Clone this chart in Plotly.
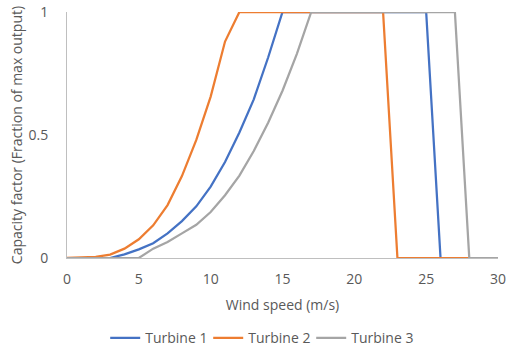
import plotly.graph_objects as go

wind_speed = list(range(0, 31))
turbine_1 = [0, 0, 0, 0, 0.015, 0.035, 0.06, 0.1, 0.15, 0.21, 0.29, 0.39, 0.51, 0.645, 0.815,
             1, 1, 1, 1, 1, 1, 1, 1, 1, 1, 1, 0, 0, 0, 0, 0]
turbine_2 = [0, 0.001, 0.005, 0.014, 0.038, 0.076, 0.133, 0.215, 0.333, 0.48, 0.656, 0.88,
             1, 1, 1, 1, 1, 1, 1, 1, 1, 1, 1, 0, 0, 0, 0, 0, 0, 0, 0]
turbine_3 = [0, 0, 0, 0, 0, 0, 0.038, 0.065, 0.1, 0.135, 0.187, 0.255, 0.335, 0.435, 0.55,
             0.68, 0.83, 1, 1, 1, 1, 1, 1, 1, 1, 1, 1, 1, 0, 0, 0]
series_names = ["Turbine 1", "Turbine 2", "Turbine 3"]
colors = ["#4472C4", "#ED7D31", "#A5A5A5"]
x_ticks = [0, 5, 10, 15, 20, 25, 30]
y_ticks = [0, 0.5, 1]
y_tick_text = ["0", "0.5", "1"]

FONT = "'Open Sans', sans-serif"
TXT = "#595959"
FS = 14

fig = go.Figure()
for name, ys, c in zip(series_names, [turbine_1, turbine_2, turbine_3], colors):
    fig.add_trace(go.Scatter(x=wind_speed, y=ys, name=name, mode="lines",
                             line=dict(color=c, width=2.25)))

fig.update_layout(
    width=530, height=356,
    margin=dict(l=67, r=32, t=12, b=98, autoexpand=False),
    paper_bgcolor="white", plot_bgcolor="white",
    font=dict(family=FONT, size=FS, color=TXT),
    showlegend=True,
    legend=dict(orientation="h", xref="container", yref="container",
                x=0.49, xanchor="center", y=0.05, yanchor="middle",
                itemwidth=30, entrywidth=58, entrywidthmode="pixels",
                font=dict(family=FONT, size=FS, color=TXT),
                tracegroupgap=0, itemclick=False),
)
fig.update_xaxes(range=[0, 30], tickvals=x_ticks, showgrid=False, zeroline=False,
                 showline=True, linecolor="#BFBFBF", linewidth=1, ticks="",
                 ticklabelstandoff=8,
                 title=dict(text="Wind speed (m/s)", standoff=13,
                            font=dict(family=FONT, size=FS, color=TXT)))
fig.update_yaxes(range=[0, 1], tickvals=y_ticks, ticktext=y_tick_text, showgrid=False,
                 zeroline=False, showline=True, linecolor="#BFBFBF", linewidth=1, ticks="",
                 ticklabelstandoff=15,
                 title=dict(text="Capacity factor (Fraction of max output)", standoff=2,
                            font=dict(family=FONT, size=FS, color=TXT)))

fig.write_html("out.html", config={"displayModeBar": False},
               post_script="document.body.style.margin='0';")
